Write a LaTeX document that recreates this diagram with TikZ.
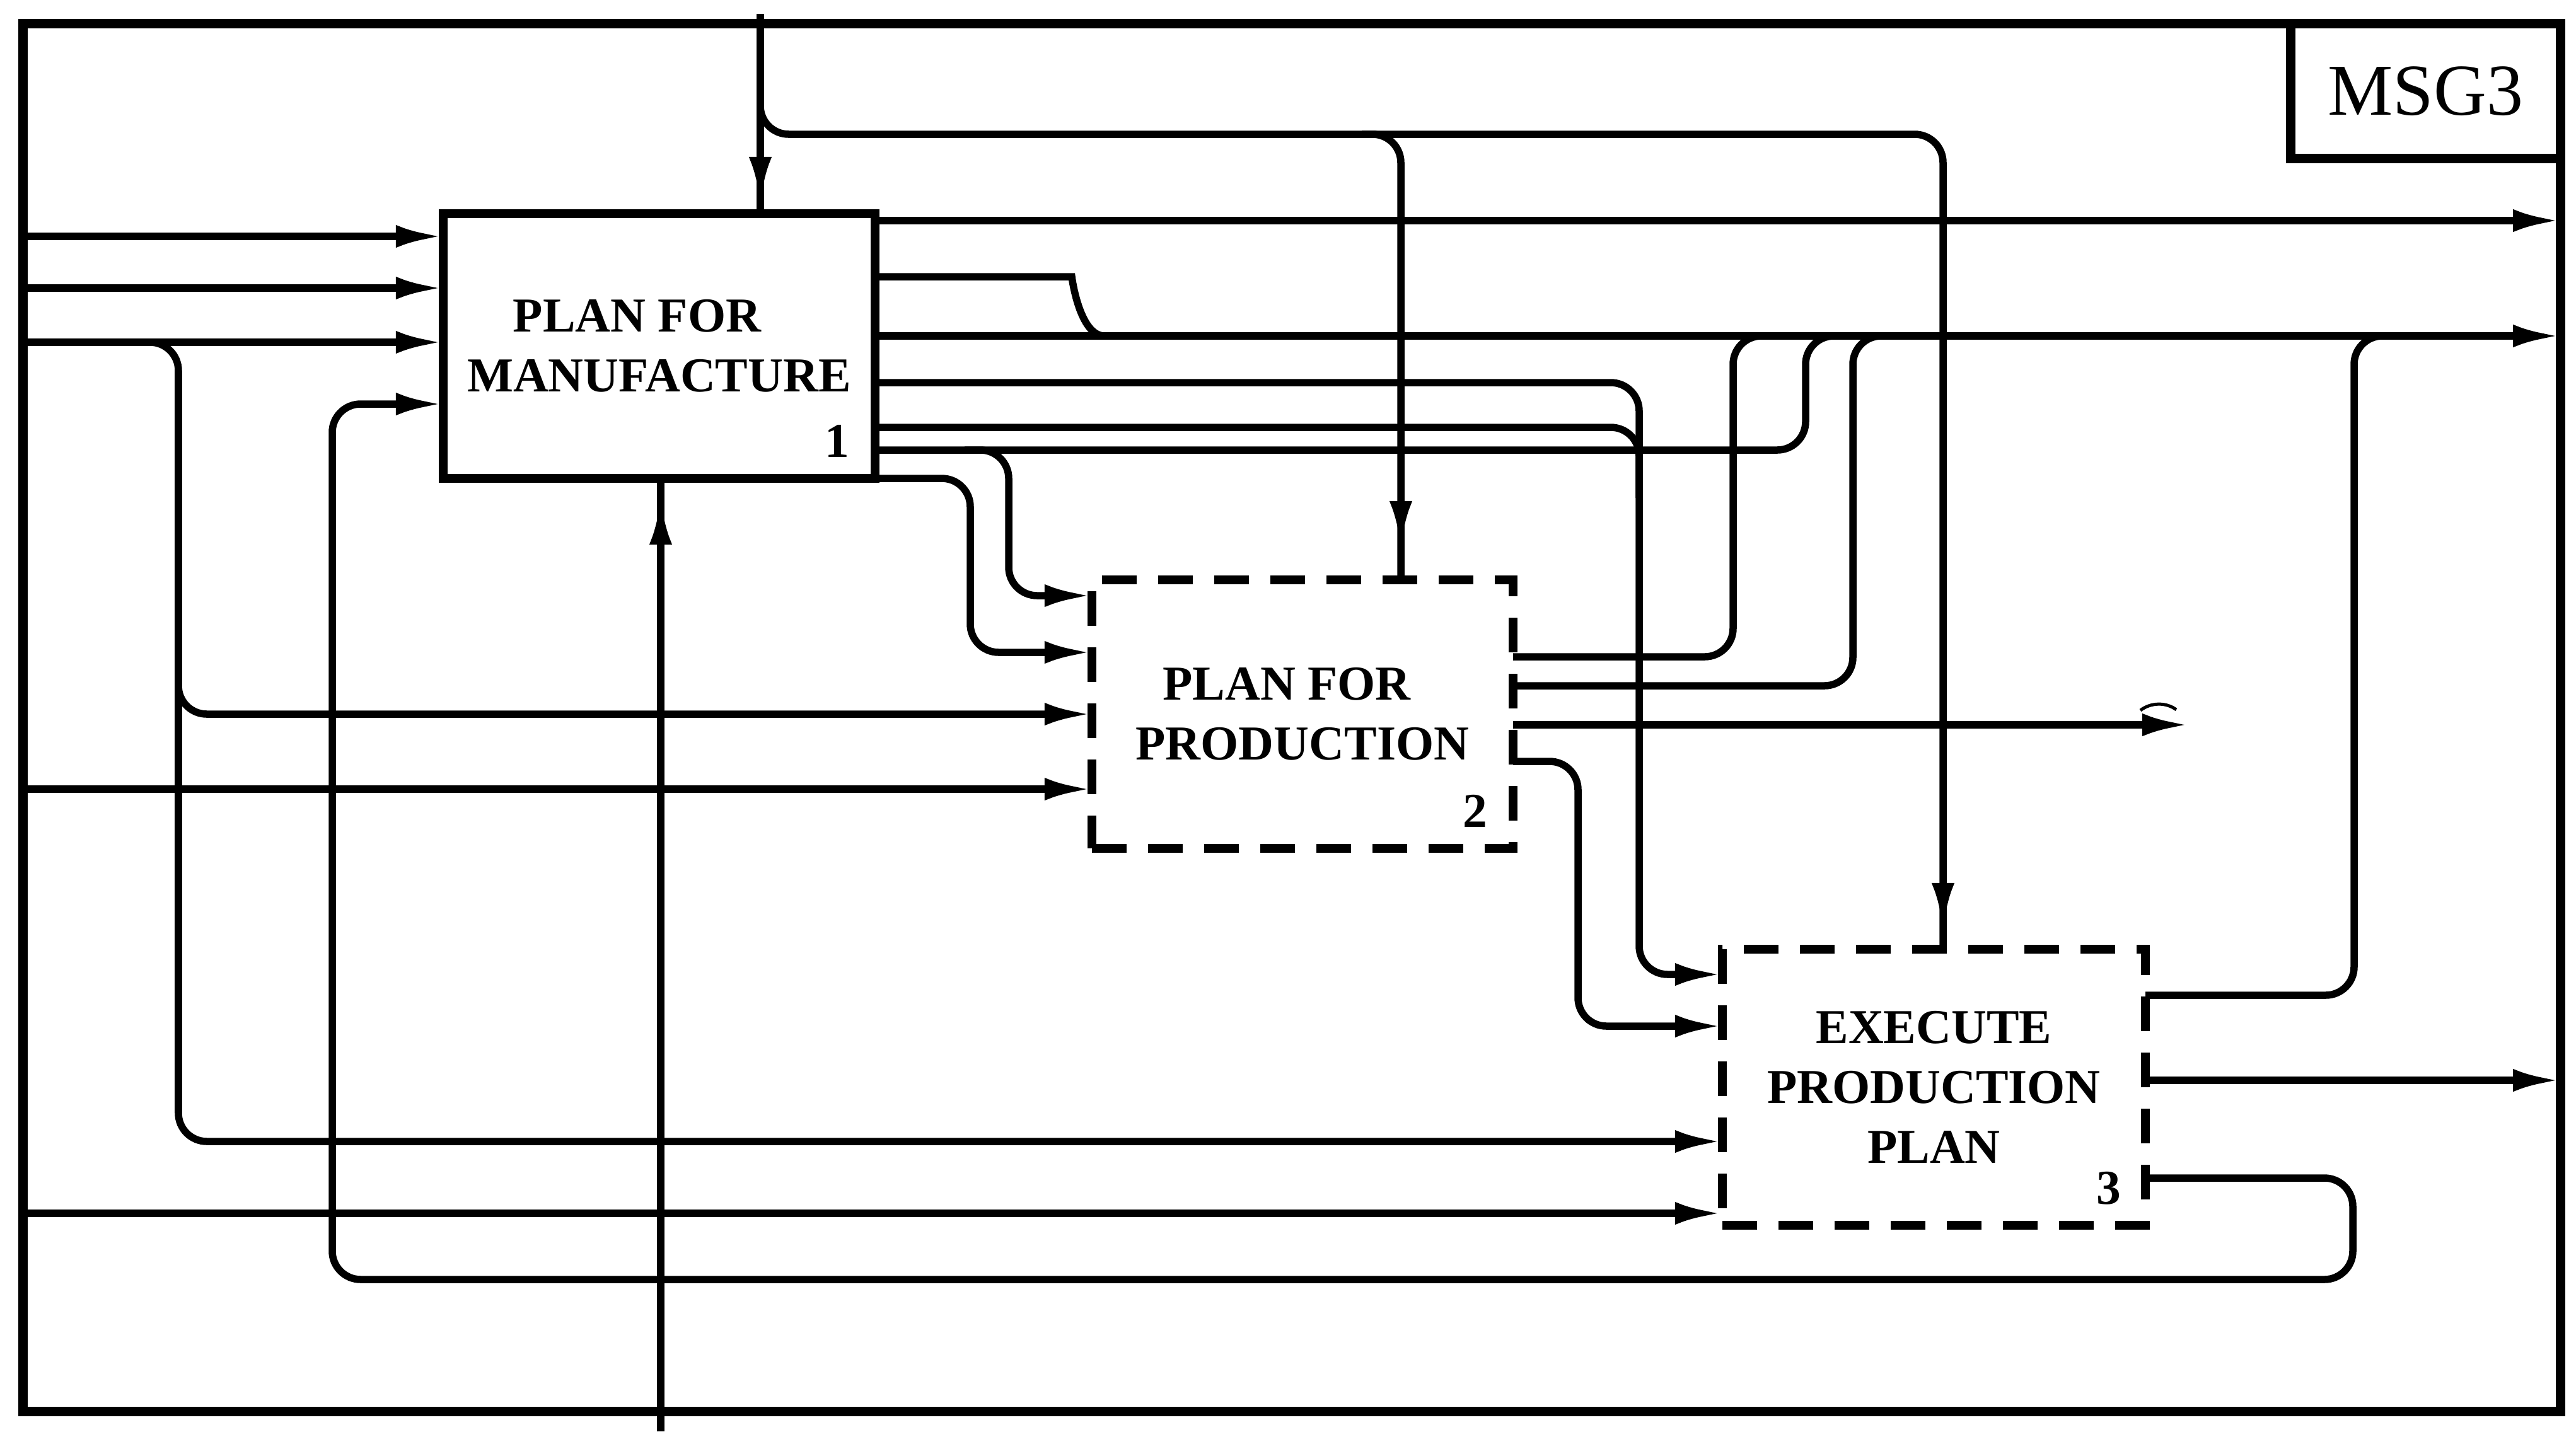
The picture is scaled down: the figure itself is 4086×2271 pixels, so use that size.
\documentclass[tikz,border=0pt]{standalone}
\usepackage{fontspec}
\setmainfont{Liberation Serif}
\usetikzlibrary{arrows.meta,calc,decorations.markings}
\begin{document}
\begin{tikzpicture}[x=0.01cm,y=-0.01cm,
  conn/.style={line width=0.115cm, rounded corners=0.45cm},
  arr/.style={conn,-{Latex[length=0.75cm,width=0.36cm]}},
  tipbefore/.style={conn, postaction={decorate},
    decoration={markings, mark=at position -#1 with {\arrow{Latex[length=0.75cm,width=0.36cm]}}}},
  solidbox/.style={draw, line width=0.14cm, outer sep=0pt, inner sep=0pt, align=center,
    font=\fontsize{22}{27}\selectfont\bfseries},
  dashbox/.style={solidbox, dash pattern=on 0.55cm off 0.34cm},
  numlab/.style={font=\fontsize{22}{27}\selectfont\bfseries, inner sep=0pt},
  framebox/.style={draw, line width=0.15cm, outer sep=0pt, inner sep=0pt},
]
\useasboundingbox (0,0) rectangle (4086,2271);

% frame and title box
\node[framebox, minimum width=40.22cm, minimum height=22.01cm] (fr) at (2049,1138.5) {};
\node[framebox, minimum width=4.27cm, minimum height=2.14cm, anchor=north east,
  font=\fontsize{33}{40}\selectfont] (msg) at (fr.north east) {MSG3};

% activity boxes
\node[solidbox, minimum width=6.85cm, minimum height=4.2cm] (b1) at (1045.5,549)
  {PLAN FOR\hspace*{0.7cm}\\MANUFACTURE};
\node[dashbox, minimum width=6.68cm, minimum height=4.26cm] (b2) at (2066,1133)
  {PLAN FOR\hspace*{0.5cm}\\PRODUCTION};
\node[dashbox, minimum width=6.71cm, minimum height=4.38cm] (b3) at (3067.5,1725)
  {EXECUTE\\PRODUCTION\\PLAN};
\node[numlab] (n1) at ($(b1.south east)+(-60,-59)$) {1};
\node[numlab] (n2) at ($(b2.south east)+(-60,-59)$) {2};
\node[numlab] (n3) at ($(b3.south east)+(-58,-59)$) {3};

% named junction / free-end coordinates
\coordinate (ctop) at (1206,22);
\coordinate (cj1) at (1206,140);
\coordinate (cj2) at (2160,213);
\coordinate (mbot) at (1048,2271);
\coordinate (ij) at (215,543);
\coordinate (ij2) at (283,1050);
\coordinate (o5end) at (2600,790);
\coordinate (o6end) at (2930,533);
\coordinate (o6j) at (1530,714);
\coordinate (p1end) at (2810,533);
\coordinate (p2end) at (3000,533);
\coordinate (p3end) at (3473,1150);
\coordinate (q1end) at (3795,533);
\coordinate (o2end) at (1752,533);

% inputs from the left frame
\draw[arr] (fr.west|-0,375) -- (b1.west|-0,375);
\draw[arr] (fr.west|-0,457) -- (b1.west|-0,457);
\draw[arr] (fr.west|-0,543) -- (b1.west|-0,543);
\draw[arr] (ij) -- (283,543) -- (283,1811) -- (b3.west|-0,1811);
\draw[arr] (ij2) -- (283,1133) -- (b2.west|-0,1133);
\draw[arr] (fr.west|-0,1252) -- (b2.west|-0,1252);
\draw[arr] (fr.west|-0,1925) -- (b3.west|-0,1925);

% feedback loop
\draw[arr] (b3.east|-0,1869) -- (3732,1869) -- (3732,2030) -- (527,2030) -- (527,641) -- (b1.west|-0,641);

% controls from the top
\draw[tipbefore=0.15cm] (ctop) -- (ctop|-b1.north);
\draw[tipbefore=0.3cm] (cj1) -- (1206,213) -- (3082,213) -- (b3.north-|3082,0);
\draw[tipbefore=0.5cm] (cj2) -- (2222,213) -- (b2.north-|2222,0);

% mechanism from the bottom
\draw[tipbefore=0.3cm] (mbot) -- (mbot|-b1.south);

% outputs of box 1
\draw[arr] (b1.east|-0,350) -- (fr.east|-0,350);
\draw[conn] (b1.east|-0,439) -- (1655,439) .. controls (1700,439) and (1712,533) .. (o2end);
\draw[arr] (b1.east|-0,533) -- (fr.east|-0,533);
\draw[arr] (b1.east|-0,607) -- (2600,607) -- (2600,1546) -- (b3.west|-0,1546);
\draw[conn] (b1.east|-0,678) -- (2600,678) -- (o5end);
\draw[conn] (b1.east|-0,714) -- (2864,714) -- (2864,533) -- (o6end);
\draw[arr] (o6j) -- (1600,714) -- (1600,945) -- (b2.west|-0,945);
\draw[arr] (b1.south east) -- (1539,759) -- (1539,1035) -- (b2.west|-0,1035);

% outputs of box 2
\draw[conn] (b2.east|-0,1042) -- (2749,1042) -- (2749,533) -- (p1end);
\draw[conn] (b2.east|-0,1088) -- (2939,1088) -- (2939,533) -- (p2end);
\draw[arr] (b2.east|-0,1150) -- (p3end);
\draw[arr] (b2.east|-0,1208) -- (2503,1208) -- (2503,1628) -- (b3.west|-0,1628);
\draw[line width=0.05cm] (3395,1127) .. controls (3412,1114) and (3436,1114) .. (3452,1126);

% outputs of box 3
\draw[conn] (b3.east|-0,1579) -- (3734,1579) -- (3734,533) -- (q1end);
\draw[arr] (b3.east|-0,1714) -- (fr.east|-0,1714);
\end{tikzpicture}
\end{document}
